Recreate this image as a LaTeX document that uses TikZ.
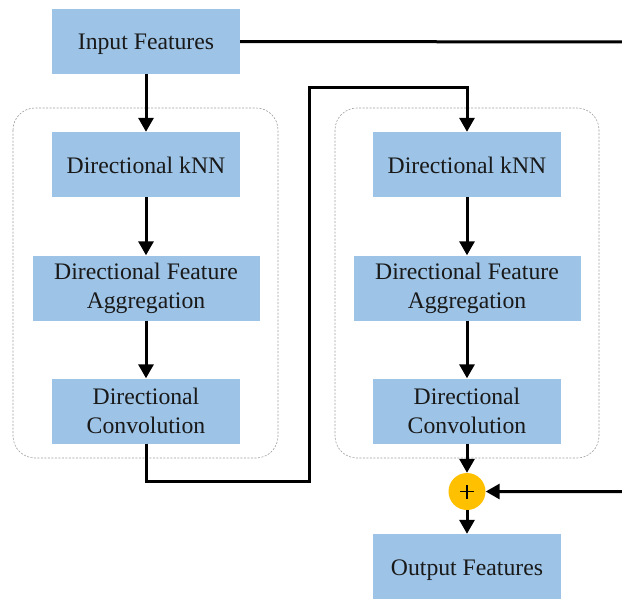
\documentclass[tikz,border=0pt]{standalone}
\usepackage{fontspec}
\setmainfont{Liberation Serif}
\usetikzlibrary{arrows.meta,positioning}
\definecolor{boxblue}{RGB}{157,195,230}
\definecolor{plusorange}{RGB}{255,192,0}
\definecolor{txt}{RGB}{25,25,25}
\newcommand{\lowertxt}[2]{\raisebox{-#1}[\height][\depth]{#2}}
\begin{document}
\begin{tikzpicture}[x=1pt,y=-1pt,
  blk/.style={fill=boxblue,draw=none,inner sep=0pt,minimum width=188pt,minimum height=65pt,
    align=center,text=txt,font=\fontsize{23.7}{29}\selectfont},
  wide/.style={blk,minimum width=227pt},
  grp/.style={draw=gray!75,line width=0.6pt,dash pattern=on 2pt off 1.5pt,rounded corners=22pt},
  conn/.style={line width=3pt,draw=black},
  arr/.style={conn,-{Triangle[width=15pt,length=14pt]}}]
\useasboundingbox (0,0) rectangle (622,598);
% containers
\draw[grp] (13,108) rectangle (278,458);
\draw[grp] (335,108) rectangle (599,458);
% nodes
\node[blk] (in) at (146,41.5) {\lowertxt{3pt}{Input Features}};
\node[blk] (lk) at (146,164.5) {\lowertxt{1pt}{Directional kNN}};
\node[wide] (ld) at (146,288) {Directional Feature\\Aggregation};
\node[blk] (lc) at (146,411) {Directional\\Convolution};
\node[blk] (rk) at (467,164.5) {\lowertxt{1pt}{Directional kNN}};
\node[wide] (rd) at (467,288) {Directional Feature\\Aggregation};
\node[blk] (rc) at (467,411) {Directional\\Convolution};
\node[circle,fill=plusorange,minimum size=37pt,inner sep=0pt] (plus) at (467,491.5) {};
\draw[line width=1.6pt,black] ([xshift=-7pt]plus.center) -- ([xshift=7pt]plus.center)
  ([yshift=-7pt]plus.center) -- ([yshift=7pt]plus.center);
\node[blk,minimum height=66pt] (out) at (467,567) {\lowertxt{3pt}{Output Features}};
% coordinates
\coordinate (j1) at (309,481);
\coordinate (j2) at (309,87);
\coordinate (e1) at (640,42);
\coordinate (e2) at (640,491.5);
% connectors
\draw[arr] (in.south) -- (lk.north);
\draw[arr] (lk.south) -- (ld.north);
\draw[arr] (ld.south) -- (lc.north);
\draw[arr] (rk.south) -- (rd.north);
\draw[arr] (rd.south) -- (rc.north);
\draw[arr,line join=miter] (lc.south) |- (j1) -- (j2) -| (rk.north);
\draw[arr] (rc.south) -- (plus.north);
\draw[arr] (plus.south) -- (out.north);
\draw[arr] (in.east) -- (e1) -- (e2) -- (plus.east);
\end{tikzpicture}
\end{document}
